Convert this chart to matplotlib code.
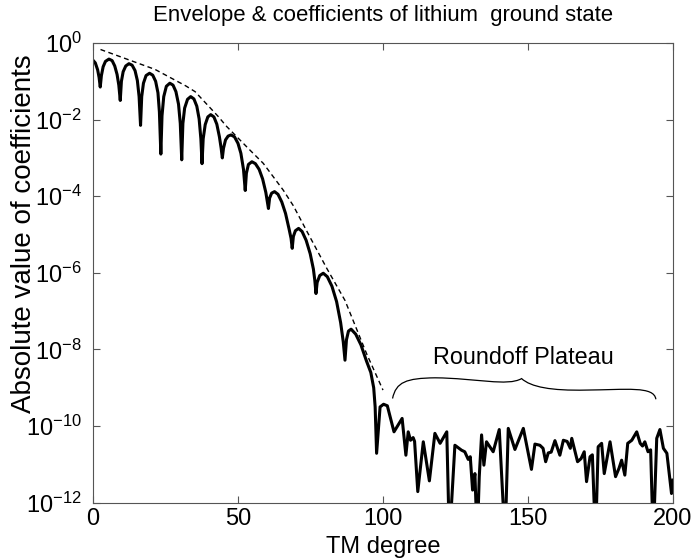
import matplotlib
matplotlib.use("Agg")
import matplotlib.pyplot as plt
from matplotlib.path import Path
from matplotlib.patches import PathPatch
import numpy as np

# TM degree / log10 of |coefficient|
degree = [0, 0.8, 1.6, 2.1, 2.5,
          2.9, 3.5, 4.3, 5.5, 6.6, 7.5, 8.3, 8.9, 9.4,
          9.8, 10.4, 11.3, 12.4, 13.5, 14.5, 15.3, 15.9, 16.4,
          16.8, 17.4, 18.3, 19.5, 20.6, 21.6, 22.4, 22.9, 23.4,
          23.8, 24.4, 25.3, 26.5, 27.6, 28.6, 29.5, 30.1, 30.6,
          31.0, 31.6, 32.6, 33.7, 34.8, 35.8, 36.6, 37.2, 37.6,
          38.0, 38.7, 39.6, 40.6, 41.7, 42.7, 43.6, 44.2, 44.6,
          45.0, 45.7, 46.6, 47.6, 48.8, 50.0, 51.0, 51.9, 52.5,
          52.9, 53.6, 54.8, 56.0, 57.3, 58.5, 59.6, 60.5,
          60.9, 61.6, 62.6, 63.8, 65.1, 66.4, 67.6, 68.3, 68.7,
          69.1, 69.8, 70.9, 72.1, 73.5, 74.9, 76.0, 76.5, 76.9,
          77.3, 78.2, 79.4, 80.8, 82.4, 84.0, 85.4, 86.3, 86.9,
          87.4, 88.1, 89.0, 90.6, 92.4, 94.3, 95.8, 96.8, 97.3, 97.8,
          99.0, 100.2, 101.5,
          103.8, 106.6, 107.9, 108.7, 109.5, 110.4, 110.9, 112.0, 113.9, 116.0,
          117.9, 119.7, 122.0, 122.9, 124.8, 127.1, 128.2, 129.4, 130.1, 130.9,
          131.7, 132.5, 133.2, 134.0, 134.8, 135.7, 138.0, 140.1, 142.1, 143.2,
          145.5, 148.4, 151.2, 152.4, 154.1, 155.2, 156.1, 157.0, 158.0, 159.3,
          161.0, 162.2, 163.5, 164.6, 165.1, 167.1, 168.3, 169.4, 170.2, 171.4,
          172.2, 173.3, 174.2, 175.4, 176.3, 178.3, 180.2, 181.4, 182.3, 183.4,
          184.4, 185.8, 187.5, 188.7, 189.5, 190.3, 191.4, 192.3, 193.2, 194.4,
          195.5, 196.7, 197.9, 199.5, 200.0]
coef_log = [-0.45, -0.52, -0.70, -0.90, -1.15,
            -0.85, -0.62, -0.48, -0.42, -0.46, -0.60, -0.82, -1.10, -1.50,
            -1.00, -0.75, -0.60, -0.54, -0.58, -0.72, -0.98, -1.40, -2.15,
            -1.40, -1.05, -0.85, -0.79, -0.84, -1.00, -1.30, -1.80, -2.90,
            -1.90, -1.40, -1.13, -1.05, -1.10, -1.27, -1.60, -2.10, -3.05,
            -2.10, -1.70, -1.47, -1.40, -1.46, -1.65, -1.98, -2.50, -3.15,
            -2.50, -2.13, -1.93, -1.87, -1.93, -2.12, -2.45, -2.75, -3.00,
            -2.75, -2.53, -2.43, -2.40, -2.45, -2.62, -2.88, -3.30, -3.85,
            -3.40, -3.17, -3.10, -3.15, -3.30, -3.55, -3.90, -4.32,
            -4.05, -3.92, -3.88, -3.95, -4.15, -4.45, -4.85, -5.10, -5.36,
            -5.05, -4.90, -4.84, -4.92, -5.15, -5.50, -5.90, -6.20, -6.54,
            -6.25, -6.07, -6.01, -6.10, -6.35, -6.75, -7.30, -7.80, -8.28,
            -7.75, -7.52, -7.47, -7.60, -7.88, -8.30, -8.60, -9.00, -9.50, -10.71,
            -9.50, -9.43, -9.47,
            -10.15, -9.80, -10.76, -10.15, -10.37, -10.30, -10.40, -11.71, -10.41, -11.43,
            -10.19, -10.45, -10.15, -13, -10.50, -10.63, -10.67, -10.87, -10.80, -11.67,
            -11.24, -13, -11.32, -10.23, -11.02, -10.41, -10.67, -10.09, -13, -10.06,
            -10.61, -10.06, -11.13, -10.47, -10.50, -10.58, -10.93, -10.70, -10.68, -10.38,
            -10.76, -10.37, -10.40, -10.58, -10.32, -10.93, -10.85, -10.67, -11.45, -10.80,
            -10.75, -13, -10.54, -10.45, -11.24, -10.41, -11.32, -11.10, -10.89, -11.28,
            -10.45, -10.37, -10.15, -10.45, -10.52, -10.41, -10.67, -10.62, -13, -10.32,
            -10.09, -10.58, -10.71, -11.76, -11.41]

# dashed envelope
env_degree = [2.6, 21.4, 32.0, 35.2, 43.2, 46.1, 54.7, 58.7, 65.6, 69.1, 74.0, 80.6, 86.9, 94.4, 100.0]
env_log = [-0.17, -0.69, -1.12, -1.27, -1.92, -2.18, -2.84, -3.14, -3.84, -4.25, -4.95, -5.88, -6.72, -8.12, -9.06]

# curly brace over the plateau (degree, log10 value), cubic bezier points
brace_x = [103.3, 104.5, 108.0, 118.0, 132.0, 143.0, 147.8, 151.0, 158.0, 170.0, 184.0, 193.5, 194.1]
brace_log = [-9.28, -8.85, -8.75, -8.74, -8.75, -8.97, -8.76, -8.98, -9.08, -9.06, -9.05, -8.95, -9.30]


def main():
    plt.rcParams['font.family'] = ['Liberation Sans', 'DejaVu Sans']
    plt.rcParams['mathtext.fontset'] = 'custom'
    plt.rcParams['mathtext.rm'] = 'Liberation Sans'
    plt.rcParams['mathtext.it'] = 'Liberation Sans:italic'

    fig = plt.figure(figsize=(6.95, 5.59), dpi=100, facecolor='w')
    ax = fig.add_axes([0.1338, 0.1007, 0.8345, 0.8224])

    ax.semilogy(degree, 10.0 ** np.array(coef_log), color='black', linewidth=2.2)
    ax.semilogy(env_degree, 10.0 ** np.array(env_log), color='black', linewidth=1.0,
                linestyle=(0, (3.5, 2.5)))

    verts = list(zip(brace_x, 10.0 ** np.array(brace_log)))
    codes = [Path.MOVETO] + [Path.CURVE4] * (len(verts) - 1)
    ax.add_patch(PathPatch(Path(verts, codes), facecolor='none', edgecolor='black',
                           linewidth=0.9))
    ax.text(148.3, 10 ** -8.2, "Roundoff Plateau", ha='center', va='center', fontsize=16.8)

    ax.set_xlim(0, 200)
    ax.set_ylim(1e-12, 1)
    ax.set_xticks([0, 50, 100, 150, 200])
    ax.set_yticks([10.0 ** k for k in range(-12, 1, 2)])
    ax.yaxis.set_minor_locator(matplotlib.ticker.NullLocator())
    ax.tick_params(direction='in', length=5, top=True, right=True, color='#555555',
                   labelcolor='black', labelsize=17)
    ax.tick_params(axis='x', pad=4)
    ax.tick_params(axis='y', pad=8)
    for s in ax.spines.values():
        s.set_color('#555555')

    ax.set_title("Envelope & coefficients of lithium  ground state", pad=16, fontsize=15.9)
    ax.set_xlabel("TM degree", labelpad=4, fontsize=17)
    ax.set_ylabel("Absolute value of coefficients", fontsize=20)
    ax.yaxis.label.set_va('center')
    ax.yaxis.set_label_coords(-0.119, 0.585)

    plt.savefig("out.png", dpi=100)


if __name__ == '__main__':
    main()
